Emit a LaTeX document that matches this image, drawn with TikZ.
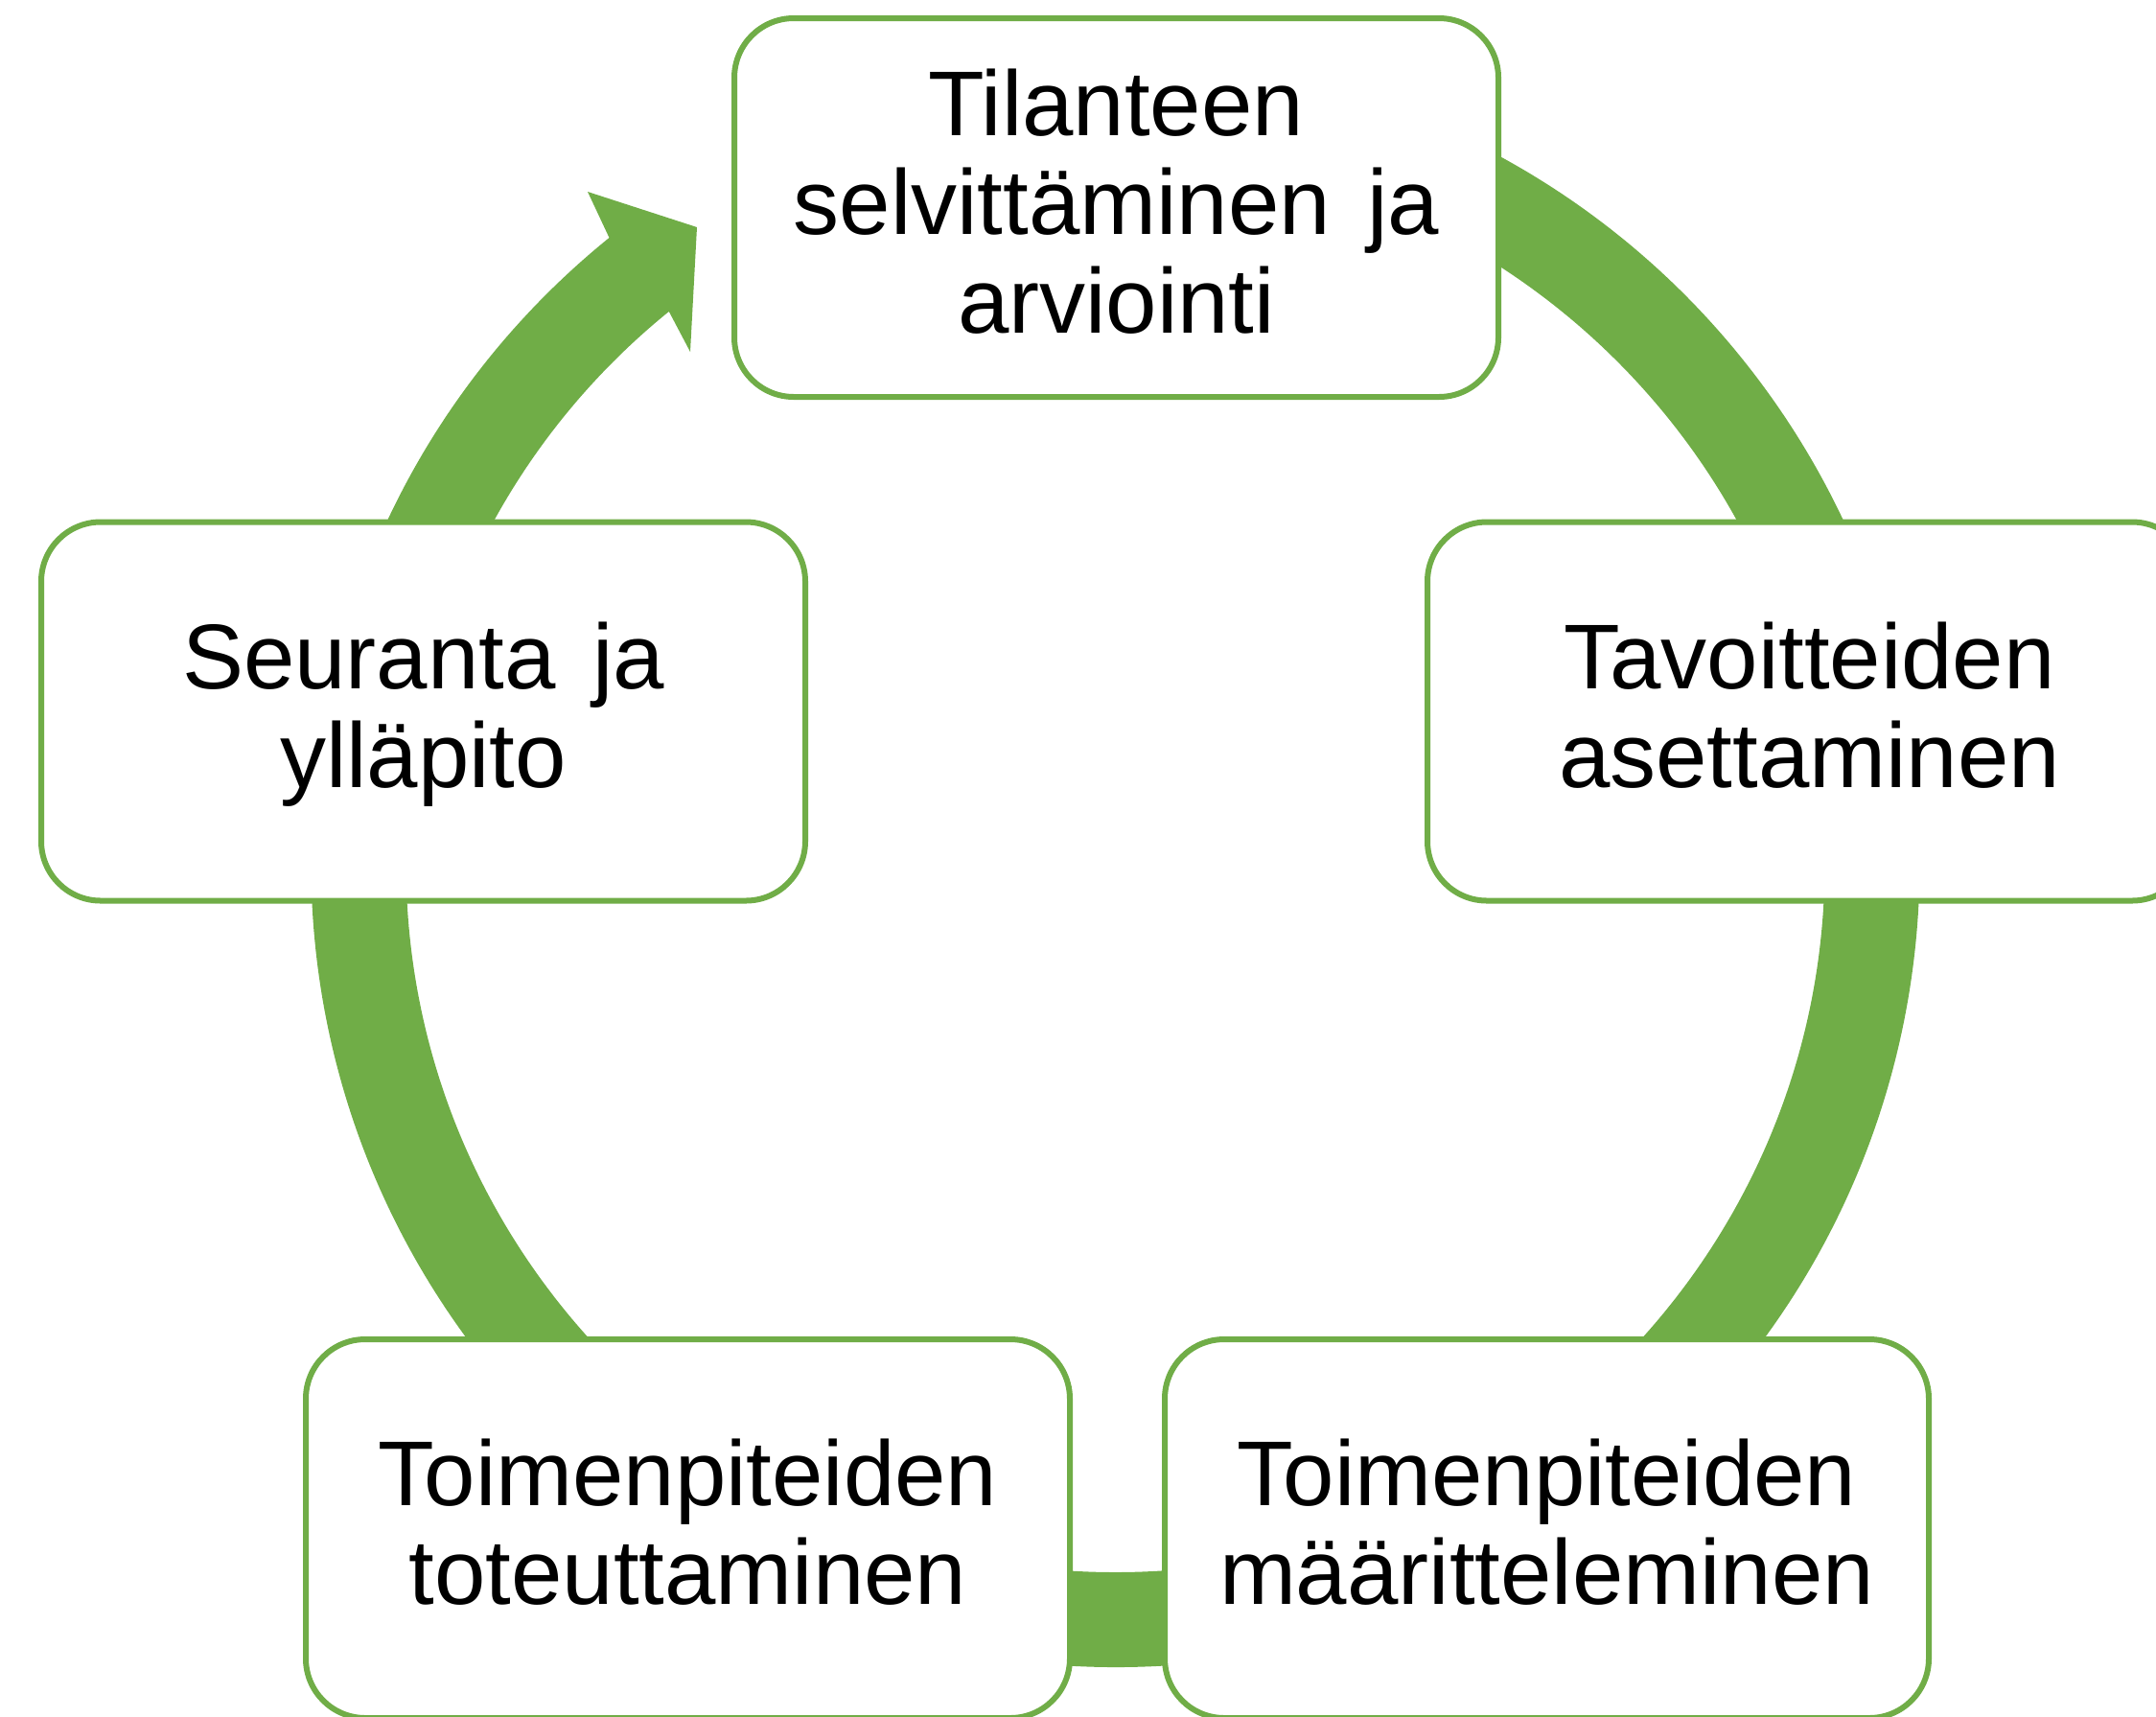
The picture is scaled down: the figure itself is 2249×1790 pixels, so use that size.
\documentclass[tikz,border=0pt]{standalone}
\usepackage{fontspec}
\setmainfont{Liberation Sans}
\usetikzlibrary{calc}
\definecolor{ringgreen}{RGB}{112,173,71}
\newcommand\ls{\rule[-0.23\baselineskip]{0pt}{\baselineskip}}
\begin{document}
\begin{tikzpicture}[x=0.5pt,y=-0.5pt,
  stage/.style={draw=ringgreen, line width=3pt, fill=white, rounded corners=31pt,
    minimum width=398.5pt, minimum height=197.5pt, align=center, inner sep=0pt,
    font=\fontsize{48pt}{51.5pt}\selectfont, text=black}]
\useasboundingbox (0,0) rectangle (2249,1790);
\clip (0,0) rectangle (2249,1790);
\coordinate (c) at (1163.5,900);
% cycle ring with arrowhead
\fill[ringgreen] ($(c)+(231:839)$) arc[start angle=231, end angle=-90, radius=839]
  -- ($(c)+(-90:740)$) arc[start angle=-90, end angle=231, radius=740]
  -- (720,367) -- (727,237) -- (613,200) -- cycle;
% stages
\node[stage] (s1) at (1164.5,216.5) {\ls Tilanteen\\\ls selvittäminen\hspace{0.4em}ja\\\ls arviointi};
\node[stage] (s2) at (1887.5,742) {\ls Tavoitteiden\\\ls asettaminen};
\node[stage] (s3) at (1613.5,1594.5) {\ls Toimenpiteiden\\\ls määritteleminen};
\node[stage] (s4) at (717.5,1594.5) {\ls Toimenpiteiden\\\ls toteuttaminen};
\node[stage] (s5) at (441.5,742) {\ls Seuranta\hspace{0.4em}ja\\\ls ylläpito};
\end{tikzpicture}
\end{document}
